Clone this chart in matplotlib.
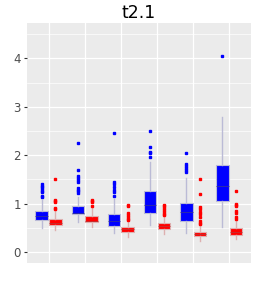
import matplotlib
matplotlib.use("Agg")
import matplotlib.pyplot as plt
import matplotlib.ticker as mticker

# box statistics: (low whisker, q1, median, q3, high whisker)
groups = [1, 2, 3, 4, 5, 6]

blue_whislo = [0.50, 0.61, 0.39, 0.56, 0.40, 0.52]
blue_q1 = [0.67, 0.78, 0.54, 0.81, 0.65, 1.05]
blue_med = [0.74, 0.81, 0.64, 0.98, 0.83, 1.36]
blue_q3 = [0.85, 0.95, 0.78, 1.26, 1.01, 1.79]
blue_whishi = [1.08, 1.13, 1.10, 1.87, 1.53, 2.78]
blue_fliers = [
    [1.40, 1.37, 1.34, 1.31, 1.27, 1.24, 1.16, 1.13],
    [2.25, 1.69, 1.56, 1.52, 1.48, 1.45, 1.33, 1.29, 1.25, 1.21],
    [2.46, 1.45, 1.41, 1.34, 1.29, 1.24, 1.15],
    [2.50, 2.18, 2.07, 2.04, 1.97],
    [2.04, 1.82, 1.78, 1.73, 1.69, 1.65],
    [4.06],
]

red_whislo = [0.46, 0.51, 0.30, 0.37, 0.23, 0.27]
red_q1 = [0.55, 0.61, 0.41, 0.48, 0.32, 0.36]
red_med = [0.60, 0.65, 0.47, 0.54, 0.37, 0.42]
red_q3 = [0.68, 0.74, 0.52, 0.59, 0.42, 0.49]
red_whishi = [0.86, 0.92, 0.64, 0.72, 0.55, 0.66]
red_fliers = [
    [1.51, 1.07, 1.05, 1.03, 0.91, 0.88],
    [1.07, 1.05, 1.03, 0.95],
    [0.98, 0.95, 0.81, 0.77, 0.73, 0.69, 0.66],
    [0.98, 0.95, 0.91, 0.87, 0.83, 0.79, 0.76],
    [1.51, 1.20, 0.92, 0.89, 0.82, 0.78, 0.73, 0.64, 0.60, 0.57],
    [1.27, 1.00, 0.97, 0.94, 0.84, 0.80, 0.72, 0.68],
]

y_ticks = [0, 1, 2, 3, 4]


def make_stats(lo, q1, med, q3, hi, fl):
    stats = []
    for i in range(len(lo)):
        stats.append({"whislo": lo[i], "q1": q1[i], "med": med[i], "q3": q3[i],
                      "whishi": hi[i], "fliers": fl[i]})
    return stats


def draw_boxes(ax, stats, positions, fill, line, med_col):
    ax.bxp(stats, positions=positions, widths=0.35, patch_artist=True,
           showcaps=False, manage_ticks=False,
           boxprops=dict(facecolor=fill, edgecolor=line, linewidth=0.8),
           whiskerprops=dict(color=line, linewidth=1.0),
           medianprops=dict(color=med_col, linewidth=0.6),
           flierprops=dict(marker="s", markersize=1.5, markerfacecolor=fill,
                           markeredgecolor=fill, linestyle="none"))


fig = plt.figure(figsize=(2.54, 2.82), dpi=100)
ax = fig.add_axes([0.106, 0.067, 0.882, 0.851])
ax.set_facecolor("#EBEBEB")

# grid like ggplot: white major + thinner minor
ax.set_yticks(y_ticks)
ax.yaxis.set_minor_locator(mticker.MultipleLocator(0.5))
ax.set_xticks(groups)
ax.grid(True, which="major", color="white", linewidth=0.9)
ax.grid(True, which="minor", axis="y", color="white", linewidth=0.5)
ax.set_axisbelow(True)

blue_pos = [g - 0.19 for g in groups]
red_pos = [g + 0.19 for g in groups]
draw_boxes(ax, make_stats(blue_whislo, blue_q1, blue_med, blue_q3, blue_whishi, blue_fliers),
           blue_pos, "#0000FF", "#BBBBD6", "#3030A0")
draw_boxes(ax, make_stats(red_whislo, red_q1, red_med, red_q3, red_whishi, red_fliers),
           red_pos, "#FF0000", "#DDB0B0", "#C03030")

ax.set_xlim(0.4, 6.6)
ax.set_ylim(-0.23, 4.73)
ax.set_xticklabels([])
ax.tick_params(axis="x", length=0)
ax.tick_params(axis="y", which="major", length=2.5, color="#333333", labelsize=8.5,
               labelcolor="#4D4D4D", pad=2)
ax.tick_params(axis="y", which="minor", length=0)
for s in ax.spines.values():
    s.set_visible(False)

ax.set_title("t2.1", fontsize=12.5, pad=3.5)

fig.savefig("out.png", dpi=100)
